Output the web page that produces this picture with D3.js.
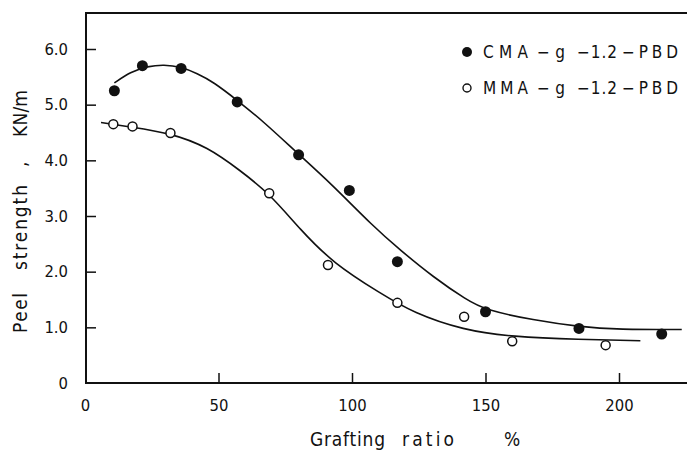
<!DOCTYPE html>
<html>
<head>
<meta charset="utf-8">
<script src="https://cdn.jsdelivr.net/npm/d3@7"></script>
<style>
  html, body { margin: 0; padding: 0; background: #fff; }
  svg { display: block; }
  text { font-family: "DejaVu Sans Condensed", "DejaVu Sans", sans-serif; fill: #111; }
</style>
</head>
<body>
<svg id="chart" width="687" height="450"></svg>
<script>
// Peel strength versus grafting ratio for two graft copolymers
const xTicks = [0, 50, 100, 150, 200];
const yTicks = [0, 1, 2, 3, 4, 5, 6];

// CMA-g-1.2-PBD measurements (grafting ratio %, peel strength KN/m)
const cmaX = [11, 21.5, 36, 57, 80, 99, 117, 150, 185, 216];
const cmaY = [5.25, 5.7, 5.65, 5.05, 4.1, 3.46, 2.18, 1.28, 0.98, 0.88];

// MMA-g-1.2-PBD measurements
const mmaX = [10.6, 17.8, 32, 69, 91, 117, 142, 160, 195];
const mmaY = [4.65, 4.61, 4.49, 3.41, 2.12, 1.44, 1.19, 0.75, 0.68];

// Hand-drawn trend curves through each series
const cmaCurveX = [11, 17, 23.5, 29.5, 36, 42, 48, 57, 67, 79.5, 92, 108, 118, 130.5, 143, 150, 168, 185, 200, 223.5];
const cmaCurveY = [5.39, 5.59, 5.69, 5.72, 5.68, 5.56, 5.41, 5.08, 4.69, 4.13, 3.59, 2.81, 2.39, 1.90, 1.49, 1.31, 1.13, 1.01, 0.96, 0.96];
const mmaCurveX = [6, 17, 32, 46, 58, 69, 80.7, 93, 110.7, 123, 141.7, 160, 185, 208];
const mmaCurveY = [4.68, 4.60, 4.49, 4.24, 3.82, 3.41, 2.75, 2.15, 1.61, 1.26, 0.95, 0.83, 0.78, 0.76];

const legendLabels = ["CMA \u2212g \u22121.2 \u2212PBD", "MMA \u2212g \u22121.2 \u2212PBD"];
const xTitleWords = ["Grafting", "ratio", "%"];
const yTitleWords = ["Peel", "strength", ",", "KN/m"];

const svg = d3.select("#chart");
const ink = "#111";
const font = '"DejaVu Sans Condensed", "DejaVu Sans", sans-serif';

const x = d3.scaleLinear().domain([0, 200]).range([85, 619]);
const y = d3.scaleLinear().domain([0, 6]).range([383, 49]);

const frameLeft = 86, frameTop = 13, frameRight = 687, frameBottom = 383;

// frame: left, top and bottom edges
svg.append("path")
  .attr("d", `M${frameRight},${frameTop}H${frameLeft}V${frameBottom}H${frameRight}`)
  .attr("stroke", ink).attr("stroke-width", 2).attr("fill", "none");

// y axis ticks and labels
const yAxis = d3.axisLeft(y)
  .tickValues(yTicks)
  .tickSizeInner(-10)
  .tickSizeOuter(0)
  .tickPadding(18)
  .tickFormat(d => d === 0 ? "0" : d3.format(".1f")(d));
const gy = svg.append("g").attr("transform", `translate(${frameLeft},0)`).call(yAxis);
gy.select(".domain").remove();
gy.selectAll(".tick line").attr("stroke", ink).attr("stroke-width", 1.5)
  .attr("display", d => d === 0 ? "none" : null);
gy.selectAll(".tick text").attr("font-size", 16.5).attr("fill", ink).style("font-family", font);

// x axis ticks and labels
const xAxis = d3.axisBottom(x)
  .tickValues(xTicks)
  .tickSizeInner(-10)
  .tickSizeOuter(0)
  .tickPadding(16)
  .tickFormat(d3.format("d"));
const gx = svg.append("g").attr("transform", `translate(0,${frameBottom})`).call(xAxis);
gx.select(".domain").remove();
gx.selectAll(".tick line").attr("stroke", ink).attr("stroke-width", 1.5)
  .attr("display", d => d === 0 ? "none" : null);
gx.selectAll(".tick text").attr("font-size", 16.5).attr("fill", ink).style("font-family", font);

// x title, word by word with wide spacing
const xWordStart = [310, 402, 504];
const xWordLen = [75, 52, 18];
svg.append("g").selectAll("text").data(xTitleWords).join("text")
  .attr("x", (d, i) => xWordStart[i]).attr("y", 446)
  .attr("font-size", 19)
  .attr("textLength", (d, i) => xWordLen[i]).attr("lengthAdjust", "spacing")
  .text(d => d);

// y title, rotated, word by word
const yWordStart = [0, 63, 166, 196];
const yWordLen = [40, 85, 4, 47];
svg.append("g").attr("transform", "translate(27,333) rotate(-90)")
  .selectAll("text").data(yTitleWords).join("text")
  .attr("x", (d, i) => yWordStart[i]).attr("y", 0)
  .attr("font-size", 19)
  .attr("textLength", (d, i) => d === "," ? null : yWordLen[i])
  .attr("lengthAdjust", "spacing")
  .text(d => d);

// trend curves
const line = d3.line().x(d => x(d[0])).y(d => y(d[1])).curve(d3.curveBasis);
svg.append("path").datum(d3.zip(cmaCurveX, cmaCurveY))
  .attr("d", line).attr("fill", "none").attr("stroke", ink).attr("stroke-width", 1.6);
svg.append("path").datum(d3.zip(mmaCurveX, mmaCurveY))
  .attr("d", line).attr("fill", "none").attr("stroke", ink).attr("stroke-width", 1.6);

// data points
svg.append("g").selectAll("circle").data(d3.zip(cmaX, cmaY)).join("circle")
  .attr("cx", d => x(d[0])).attr("cy", d => y(d[1])).attr("r", 5.5)
  .attr("fill", ink);
svg.append("g").selectAll("circle").data(d3.zip(mmaX, mmaY)).join("circle")
  .attr("cx", d => x(d[0])).attr("cy", d => y(d[1])).attr("r", 4.5)
  .attr("fill", "#fff").attr("stroke", ink).attr("stroke-width", 1.5);

// legend: marker, then label tokens spread across the row
const legend = svg.append("g");
legend.append("circle").attr("cx", 467).attr("cy", 52).attr("r", 5).attr("fill", ink);
legend.append("circle").attr("cx", 467).attr("cy", 88).attr("r", 4).attr("fill", "#fff")
  .attr("stroke", ink).attr("stroke-width", 1.4);
const tokenStart = [483, 537, 577, 622];
const tokenLen = [45, 28, 40, 56];
legendLabels.forEach((label, i) => {
  legend.append("g").selectAll("text").data(label.split(" ")).join("text")
    .attr("x", (d, j) => tokenStart[j]).attr("y", 52 + i * 36).attr("dy", "0.36em")
    .attr("font-size", 17)
    .attr("textLength", (d, j) => tokenLen[j]).attr("lengthAdjust", "spacing")
    .text(d => d);
});
</script>
</body>
</html>
